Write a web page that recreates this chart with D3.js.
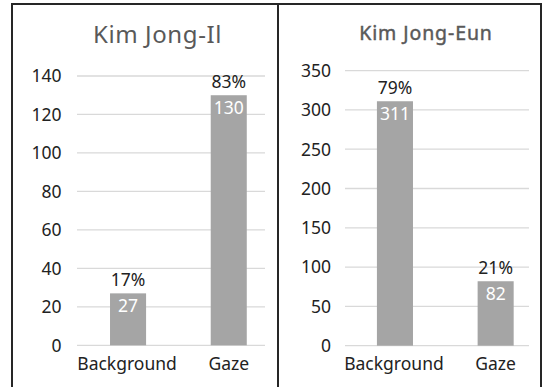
<!DOCTYPE html>
<html><head><meta charset="utf-8">
<script src="https://cdn.jsdelivr.net/npm/d3@7"></script>
<style>
html,body{margin:0;padding:0;background:#fff;}
text{font-family:"Noto Sans",sans-serif;}
</style></head>
<body><svg id="c" width="545" height="387"></svg>
<script>
const categories = ["Background", "Gaze"];
const kjiValues = [27, 130];
const kjiPercents = ["17%", "83%"];
const kjiTicks = [0, 20, 40, 60, 80, 100, 120, 140];
const kjeValues = [311, 82];
const kjePercents = ["79%", "21%"];
const kjeTicks = [0, 50, 100, 150, 200, 250, 300, 350];

const svg = d3.select("#c");
svg.append("rect").attr("width", 545).attr("height", 387).attr("fill", "#fff");

const panels = [
  {title: "Kim Jong-Il", values: kjiValues, pcts: kjiPercents, ticks: kjiTicks,
   yDomain: [0, 140], yRange: [345.3, 76], xRange: [77.7, 279.1],
   gridX: [77, 265], tickX: 61.5, titleX: 157.5, titleY: 43, titleSize: 24, titleStroke: 0, titleSpacing: 0.6},
  {title: "Kim Jong-Eun", values: kjeValues, pcts: kjePercents, ticks: kjeTicks,
   yDomain: [0, 350], yRange: [345.7, 70.6], xRange: [344.6, 546],
   gridX: [345, 529], tickX: 331, titleX: 426, titleY: 40, titleSize: 19.5, titleStroke: 0.45, titleSpacing: 0.9}
];

panels.forEach(p => {
  const g = svg.append("g");
  const y = d3.scaleLinear().domain(p.yDomain).range(p.yRange);
  const x = d3.scaleBand().domain(categories).range(p.xRange).paddingInner(0.642).paddingOuter(0.321);

  g.selectAll("line.grid").data(p.ticks).join("line")
    .attr("x1", p.gridX[0]).attr("x2", p.gridX[1])
    .attr("y1", d => y(d)).attr("y2", d => y(d))
    .attr("stroke", "#d9d9d9").attr("stroke-width", 1.3);

  g.selectAll("text.tick").data(p.ticks).join("text")
    .attr("x", p.tickX).attr("y", d => y(d)).attr("dy", "0.36em")
    .attr("text-anchor", "end").attr("font-size", 17.5).attr("fill", "#222")
    .text(d => d);

  g.selectAll("rect.bar").data(p.values).join("rect")
    .attr("x", (d, i) => x(categories[i])).attr("width", x.bandwidth())
    .attr("y", d => y(d)).attr("height", d => y(0) - y(d))
    .attr("fill", "#a5a5a5");

  g.selectAll("text.val").data(p.values).join("text")
    .attr("x", (d, i) => x(categories[i]) + x.bandwidth() / 2)
    .attr("y", d => y(d) + 19)
    .attr("text-anchor", "middle").attr("font-size", 17.5).attr("fill", "#fff")
    .text(d => d);

  g.selectAll("text.pct").data(p.values).join("text")
    .attr("x", (d, i) => x(categories[i]) + x.bandwidth() / 2)
    .attr("y", d => y(d) - 7.5)
    .attr("text-anchor", "middle").attr("font-size", 17.5).attr("fill", "#222")
    .text((d, i) => p.pcts[i]);

  g.selectAll("text.cat").data(categories).join("text")
    .attr("x", d => x(d) + x.bandwidth() / 2 - (d === "Background" ? 1 : 0))
    .attr("y", 369.5)
    .attr("text-anchor", "middle").attr("font-size", 17.5).attr("fill", "#222")
    .text(d => d);

  g.append("text")
    .attr("x", p.titleX).attr("y", p.titleY)
    .attr("text-anchor", "middle").attr("font-size", p.titleSize)
    .attr("letter-spacing", p.titleSpacing)
    .attr("stroke", "#595959").attr("stroke-width", p.titleStroke)
    .attr("fill", "#595959").text(p.title);
});

// panel borders
const border = svg.append("g").attr("stroke", "#262626").attr("stroke-width", 2);
border.append("line").attr("x1", 11).attr("x2", 542).attr("y1", 4).attr("y2", 4);
[12, 278, 541].forEach(xx => border.append("line").attr("x1", xx).attr("x2", xx).attr("y1", 3).attr("y2", 387));
</script></body></html>
